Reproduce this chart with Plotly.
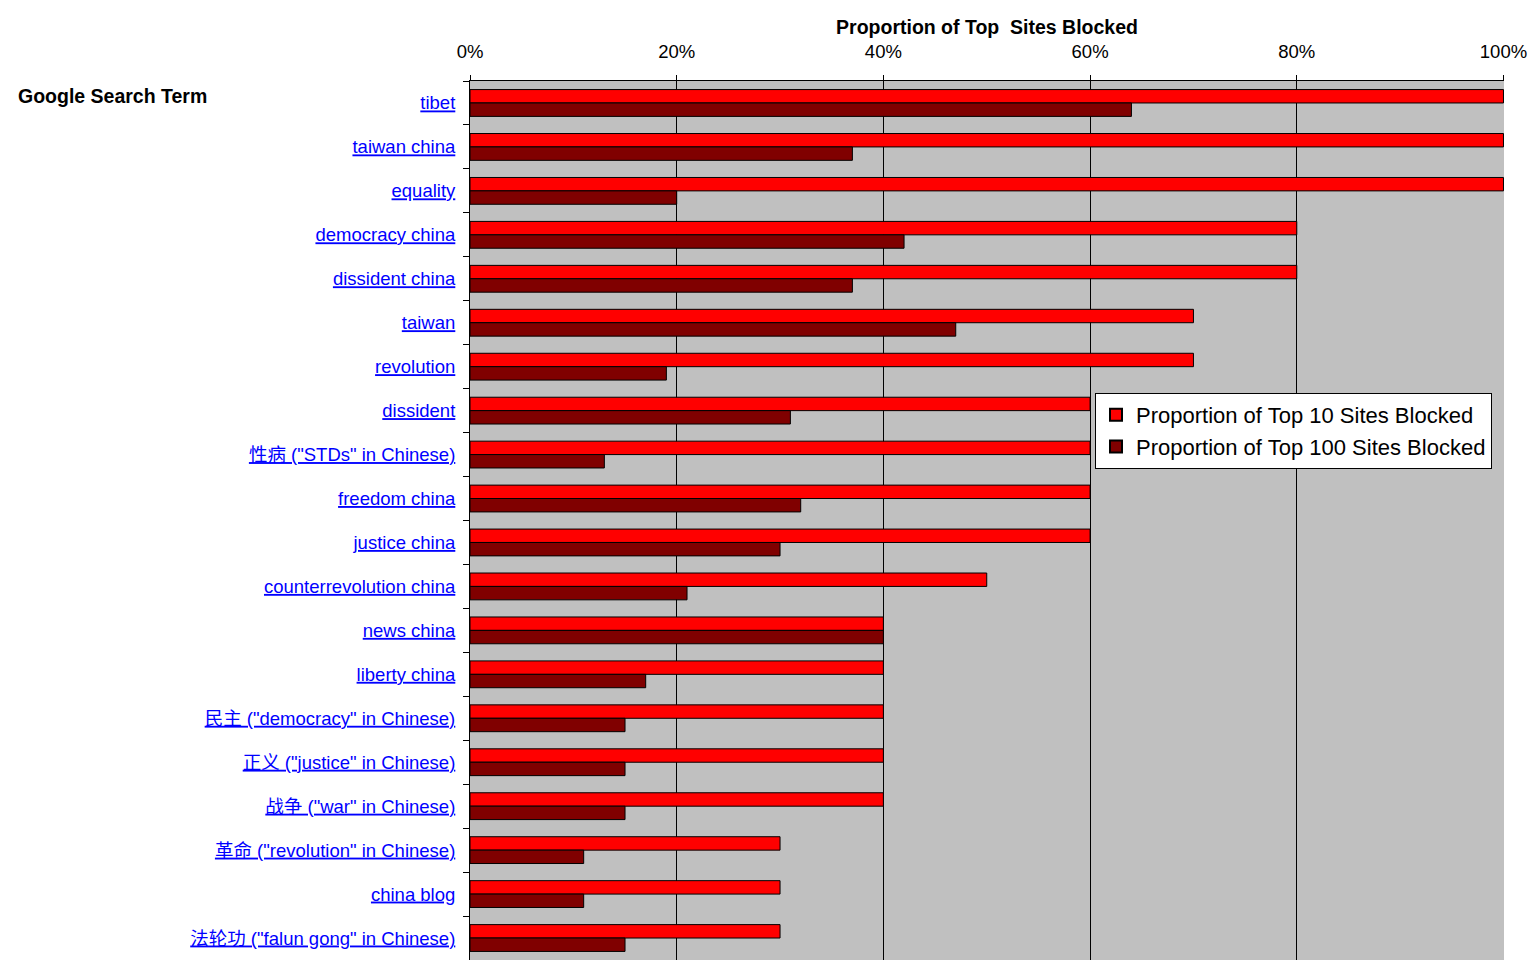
import plotly.graph_objects as go

categories = [
    "tibet", "taiwan china", "equality", "democracy china", "dissident china",
    "taiwan", "revolution", "dissident", "性病 (\"STDs\" in Chinese)", "freedom china",
    "justice china", "counterrevolution china", "news china", "liberty china",
    "民主 (\"democracy\" in Chinese)", "正义 (\"justice\" in Chinese)",
    "战争 (\"war\" in Chinese)", "革命 (\"revolution\" in Chinese)", "china blog",
    "法轮功 (\"falun gong\" in Chinese)",
]
top10 = [100, 100, 100, 80, 80, 70, 70, 60, 60, 60, 60, 50, 40, 40, 40, 40, 40, 30, 30, 30]
top100 = [64, 37, 20, 42, 37, 47, 19, 31, 13, 32, 30, 21, 40, 17, 15, 15, 15, 11, 11, 15]
series_names = ["Proportion of Top 10 Sites Blocked", "Proportion of Top 100 Sites Blocked"]
x_ticks = [0, 0.2, 0.4, 0.6, 0.8, 1.0]

FONT = "Liberation Sans, Arial, Noto Sans CJK SC, sans-serif"

fig = go.Figure()
fig.add_trace(go.Bar(
    y=categories, x=[v / 100 for v in top10], orientation="h", name=series_names[0],
    marker=dict(color="#ff0000", line=dict(color="#000000", width=1)),
))
fig.add_trace(go.Bar(
    y=categories, x=[v / 100 for v in top100], orientation="h", name=series_names[1],
    marker=dict(color="#800000", line=dict(color="#000000", width=1)),
))

W, H = 1529, 960
L, R, T, B = 470, 25, 81, 0
pw = W - L - R
ph = H - T - B

fig.update_layout(
    width=W, height=H,
    margin=dict(l=L, r=R, t=T, b=B, pad=0),
    paper_bgcolor="#ffffff",
    plot_bgcolor="#c0c0c0",
    barmode="group",
    bargap=0.39,
    bargroupgap=0,
    font=dict(family=FONT, size=18, color="#000000"),
    showlegend=True,
    legend=dict(
        x=(1095 - L) / pw, y=1 - (393 - T) / ph, xanchor="left", yanchor="top",
        bgcolor="#ffffff", bordercolor="#000000", borderwidth=1,
        font=dict(family=FONT, size=22, color="#000000"),
        traceorder="normal", itemsizing="constant",
        tracegroupgap=0,
    ),
    xaxis=dict(
        side="top", range=[0, 1.0005], tickvals=x_ticks, tickformat=".0%",
        showgrid=True, gridcolor="#000000", gridwidth=1,
        showline=True, linecolor="#000000", linewidth=1,
        ticks="outside", ticklen=5, tickcolor="#000000",
        ticklabelstandoff=10,
        tickfont=dict(family=FONT, size=18.5, color="#000000"),
        title=dict(text="<b>Proportion of Top\u00a0\u00a0Sites Blocked</b>",
                   font=dict(family=FONT, size=19.5, color="#000000"), standoff=0),
        zeroline=False, fixedrange=True,
    ),
    yaxis=dict(
        autorange="reversed", type="category",
        tickmode="array", tickvals=categories,
        ticktext=["<u>" + c + "</u>" for c in categories],
        tickson="boundaries", ticks="outside", ticklen=6, tickcolor="#000000",
        showline=True, linecolor="#000000", linewidth=1,
        showgrid=False, zeroline=False,
        tickfont=dict(family=FONT, size=18.5, color="#0000ff"),
        ticklabelstandoff=10,
        fixedrange=True,
    ),
    annotations=[dict(
        text="<b>Google Search Term</b>", xref="paper", yref="paper",
        x=(16 - L) / pw, y=1 - (96 - T) / ph, xanchor="left", yanchor="middle",
        showarrow=False, font=dict(family=FONT, size=19.5, color="#000000"),
    )],
)

fig.write_html(
    "out.html",
    config={"displayModeBar": False},
    post_script="document.body.style.margin='0';document.body.style.overflow='hidden';",
)
